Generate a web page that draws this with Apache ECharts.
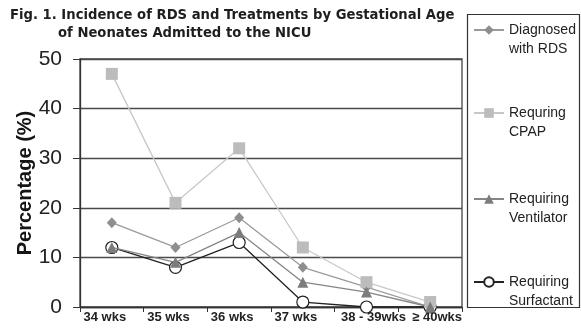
<!DOCTYPE html>
<html>
<head>
<meta charset="utf-8">
<script src="https://cdn.jsdelivr.net/npm/echarts@6/dist/echarts.min.js"></script>
<style>
  html, body { margin: 0; padding: 0; background: #fff; }
  #chart { width: 581px; height: 330px; }
</style>
</head>
<body>
<div id="chart"></div>
<script>
// Gestational-age groups and the share (%) of admitted neonates in each
var categories = ['34 wks', '35 wks', '36 wks', '37 wks', '38 - 39wks', '\u2265 40wks'];
var diagnosedRDS = [17, 12, 18, 8, 4, 0];
var requringCPAP = [47, 21, 32, 12, 5, 1];
var requiringVentilator = [12, 9, 15, 5, 3, 0];
var requiringSurfactant = [12, 8, 13, 1, 0, 0];
var yTicks = [0, 10, 20, 30, 40, 50];

var seriesNames = ['Diagnosed with RDS', 'Requring CPAP', 'Requiring Ventilator', 'Requiring Surfactant'];
var legendMarkerY = [30, 113, 199, 282];

var FONT = "'Liberation Sans', Arial, sans-serif";
var LINE_H = 19;

var chart = echarts.init(document.getElementById('chart'), null, { renderer: 'canvas' });

// one legend block per series; a blank lead line keeps the icon level with the first text line
var legends = seriesNames.map(function (name, i) {
  return {
    data: [name],
    orient: 'vertical',
    left: 473,
    top: legendMarkerY[i] - 1.5 * LINE_H,
    padding: 0,
    itemWidth: 30,
    itemHeight: 12,
    itemGap: 5,
    selectedMode: false,
    formatter: function (n) {
      var k = n.indexOf(' ');
      return '{t| }\n{t|' + n.slice(0, k) + '}\n{t|' + n.slice(k + 1) + '}';
    },
    textStyle: {
      fontFamily: FONT,
      fontSize: 14,
      color: '#222',
      lineHeight: LINE_H,
      rich: {
        t: { fontFamily: FONT, fontSize: 14, color: '#222', lineHeight: LINE_H }
      }
    }
  };
});

var option = {
  backgroundColor: '#fff',
  animation: false,
  title: [
    {
      text: 'Fig. 1. Incidence of RDS and Treatments by Gestational Age',
      left: 10, top: 9, padding: 0,
      textStyle: { fontFamily: "'DejaVu Sans', sans-serif", fontWeight: 'bold', fontSize: 13.2, color: '#1e1e1e' }
    },
    {
      text: 'of Neonates Admitted to the NICU',
      left: 58, top: 27, padding: 0,
      textStyle: { fontFamily: "'DejaVu Sans', sans-serif", fontWeight: 'bold', fontSize: 13.2, color: '#1e1e1e' }
    }
  ],
  legend: legends,
  graphic: [
    {
      type: 'rect',
      silent: true,
      shape: { x: 467.5, y: 14.5, width: 112, height: 293 },
      style: { fill: 'none', stroke: '#333', lineWidth: 1.2 }
    }
  ],
  grid: {
    left: 80, right: 119, top: 59, bottom: 23,
    show: true,
    backgroundColor: '#fff',
    borderColor: '#444',
    borderWidth: 1.3
  },
  xAxis: {
    type: 'category',
    data: categories,
    boundaryGap: true,
    axisLine: { lineStyle: { color: '#333', width: 1.3 } },
    axisTick: { show: true, length: 5, lineStyle: { color: '#333' } },
    axisLabel: {
      interval: 0,
      margin: 4,
      formatter: function (v, i) {
        return (i < 4 ? '{l|' : '{r|') + v + '}';
      },
      rich: {
        l: { fontFamily: FONT, fontWeight: 'bold', fontSize: 13, color: '#222', padding: [0, 14, 0, 0] },
        r: { fontFamily: FONT, fontWeight: 'bold', fontSize: 13, color: '#222', padding: [0, 0, 0, 14] }
      }
    }
  },
  yAxis: {
    type: 'value',
    min: yTicks[0],
    max: yTicks[yTicks.length - 1],
    interval: yTicks[1] - yTicks[0],
    name: 'Percentage (%)',
    nameLocation: 'middle',
    nameGap: 45,
    nameMoveOverlap: false,
    nameTextStyle: { fontFamily: FONT, fontWeight: 'bold', fontSize: 20, color: '#151515' },
    axisLine: { show: true, lineStyle: { color: '#333', width: 1.3 } },
    axisTick: { show: true, length: 7, lineStyle: { color: '#333' } },
    axisLabel: { fontFamily: FONT, fontSize: 21, color: '#222', margin: 18 },
    splitLine: { show: true, lineStyle: { color: '#4a4a4a', width: 1.3 } }
  },
  series: [
    {
      name: seriesNames[0],
      type: 'line',
      data: diagnosedRDS,
      symbol: 'diamond',
      symbolSize: [10, 11],
      itemStyle: { color: '#8e8e8e' },
      lineStyle: { color: '#9a9a9a', width: 1.3 },
      z: 3
    },
    {
      name: seriesNames[1],
      type: 'line',
      data: requringCPAP,
      symbol: 'rect',
      symbolSize: 12,
      itemStyle: { color: '#bcbcbc' },
      lineStyle: { color: '#c8c8c8', width: 1.3 },
      z: 3
    },
    {
      name: seriesNames[2],
      type: 'line',
      data: requiringVentilator,
      symbol: 'triangle',
      symbolSize: 11,
      itemStyle: { color: '#7c7c7c' },
      lineStyle: { color: '#858585', width: 1.3 },
      z: 3
    },
    {
      name: seriesNames[3],
      type: 'line',
      data: requiringSurfactant,
      symbol: 'circle',
      symbolSize: 12,
      itemStyle: { color: '#fff', borderColor: '#222', borderWidth: 1.2 },
      lineStyle: { color: '#222', width: 1.3 },
      z: 2
    }
  ]
};

chart.setOption(option);
</script>
</body>
</html>
